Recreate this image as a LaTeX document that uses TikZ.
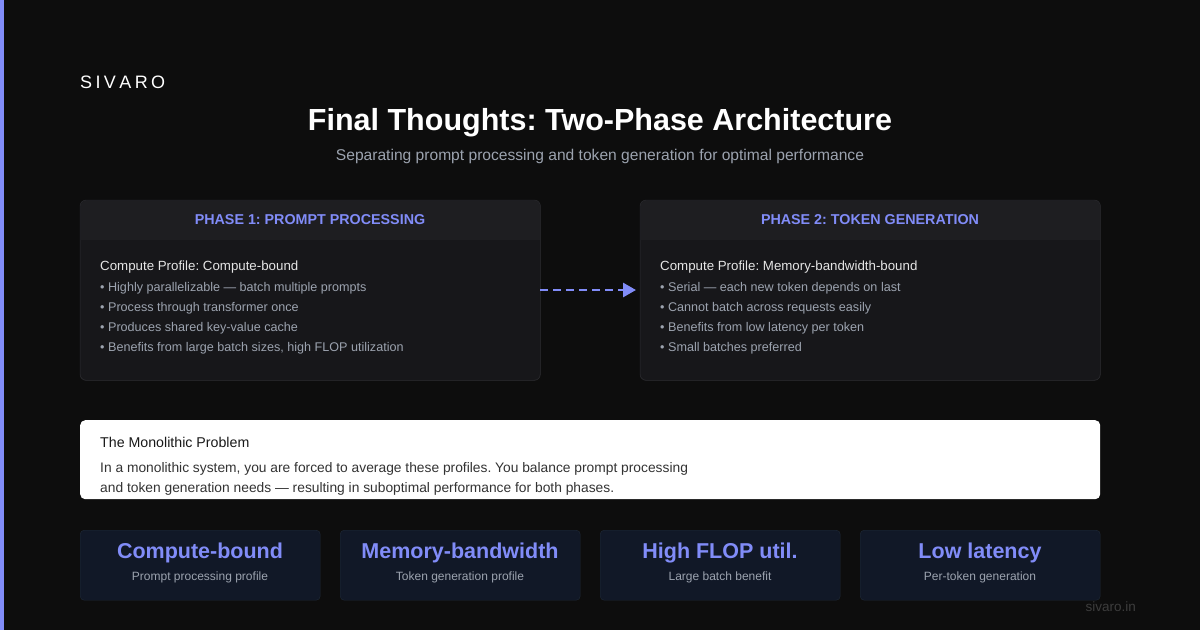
\documentclass[tikz,border=0pt]{standalone}
\usepackage{fontspec}
\setmainfont{Liberation Sans}
\usetikzlibrary{arrows.meta,positioning}
\frenchspacing

\definecolor{bgdark}{HTML}{0D0D0D}
\definecolor{accent}{HTML}{818CF8}
\definecolor{cardfill}{HTML}{17171A}
\definecolor{cardhead}{HTML}{1E1E21}
\definecolor{cardline}{HTML}{2A2A2E}
\definecolor{softgrey}{HTML}{9CA3AF}
\definecolor{lightgrey}{HTML}{E5E5E5}
\definecolor{statfill}{HTML}{111827}
\definecolor{statline}{HTML}{1F2937}
\definecolor{notetext}{HTML}{333333}

\newcommand{\fsz}[1]{\fontsize{#1}{#1}\selectfont}

\begin{document}
\begin{tikzpicture}[
  x=1pt, y=-1pt,
  phase/.style={draw=cardline, fill=cardfill, rounded corners=6pt, anchor=north west,
    minimum width=460pt, minimum height=180pt, inner sep=0pt},
  phasehead/.style={text=accent, font=\fsz{14.3}\bfseries},
  profile/.style={anchor=base west, inner sep=0pt, text=lightgrey, font=\fsz{13.3}},
  bullet/.style={anchor=base west, inner sep=0pt, text=softgrey, font=\fsz{12.6}},
  stat/.style={draw=statline, fill=statfill, rounded corners=4pt, anchor=north west,
    minimum width=240pt, minimum height=70pt, inner sep=0pt},
  statbig/.style={text=accent, font=\fsz{21.5}\bfseries},
  statsmall/.style={text=softgrey, font=\fsz{12}},
  arr/.style={-{Triangle[length=13pt,width=14pt]}, accent, line width=2.8pt, dash pattern=on 8pt off 5pt}
]
% background and frame
\fill[bgdark] (0,0) rectangle (1200,630);
\fill[accent] (0,0) rectangle (4,630);
\useasboundingbox (0,0) rectangle (1200,630);

% heading
\node[anchor=base west, inner sep=0pt, text=white, font=\fsz{18}] (brand) at (80,88)
  {S\hspace{3.4pt}I\hspace{3.4pt}V\hspace{3.4pt}A\hspace{3.4pt}R\hspace{3.4pt}O};
\node[anchor=base, inner sep=0pt, text=white, font=\fsz{30.5}\bfseries] (title) at (600,130)
  {Final Thoughts: Two-Phase Architecture};
\node[anchor=base, inner sep=0pt, text=softgrey, font=\fsz{15.6}] (subtitle) at (600,160)
  {Separating prompt processing and token generation for optimal performance};

% phase 1
\node[phase] (prefill) at (80,200) {};
\fill[cardhead, rounded corners=6pt] ([shift={(0.5,0.5)}]prefill.north west) rectangle ([shift={(-0.5,40)}]prefill.north east);
\fill[cardhead] ([shift={(0.5,34)}]prefill.north west) rectangle ([shift={(-0.5,40)}]prefill.north east);
\draw[cardline, rounded corners=6pt] (prefill.north west) rectangle (prefill.south east);
\node[phasehead] (prefillhead) at (310,220) {PHASE 1: PROMPT PROCESSING};
\node[profile] (prefillprof) at (100,270) {Compute Profile: Compute-bound};
\node[bullet] (pb1) at (100,291) {• Highly parallelizable — batch multiple prompts};
\node[bullet] (pb2) at (100,311) {• Process through transformer once};
\node[bullet] (pb3) at (100,331) {• Produces shared key-value cache};
\node[bullet] (pb4) at (100,351) {• Benefits from large batch sizes, high FLOP utilization};

% phase 2
\node[phase] (decode) at (640,200) {};
\fill[cardhead, rounded corners=6pt] ([shift={(0.5,0.5)}]decode.north west) rectangle ([shift={(-0.5,40)}]decode.north east);
\fill[cardhead] ([shift={(0.5,34)}]decode.north west) rectangle ([shift={(-0.5,40)}]decode.north east);
\draw[cardline, rounded corners=6pt] (decode.north west) rectangle (decode.south east);
\node[phasehead] (decodehead) at (870,220) {PHASE 2: TOKEN GENERATION};
\node[profile] (decodeprof) at (660,270) {Compute Profile: Memory-bandwidth-bound};
\node[bullet] (db1) at (660,291) {• Serial — each new token depends on last};
\node[bullet] (db2) at (660,311) {• Cannot batch across requests easily};
\node[bullet] (db3) at (660,331) {• Benefits from low latency per token};
\node[bullet] (db4) at (660,351) {• Small batches preferred};

% handoff
\coordinate (handout) at (540,290);
\coordinate (handin) at (636,290);
\draw[arr] (handout) -- (handin);

% monolithic note
\node[fill=white, rounded corners=5pt, anchor=north west, minimum width=1020pt,
  minimum height=79pt, inner sep=0pt] (mono) at (80,420) {};
\node[anchor=base west, inner sep=0pt, text=black!90, font=\fsz{14.2}] (monotitle) at (100,447)
  {The Monolithic Problem};
\node[anchor=base west, inner sep=0pt, text=notetext, font=\fsz{13.8}] (monobody) at (100,472)
  {In a monolithic system, you are forced to average these profiles. You balance prompt processing};
\node[anchor=base west, inner sep=0pt, text=notetext, font=\fsz{13.8}] (monobody2) at (100,492)
  {and token generation needs — resulting in suboptimal performance for both phases.};

% stats row
\foreach \i/\big/\small in {0/Compute-bound/Prompt processing profile,
    1/Memory-bandwidth/Token generation profile,
    2/High FLOP util./Large batch benefit,
    3/Low latency/Per-token generation} {
  \node[stat] (stat\i) at (80+260*\i,530) {};
  \node[statbig, anchor=base] (statbig\i) at (200+260*\i,558) {\big};
  \node[statsmall, anchor=base] (statsmall\i) at (200+260*\i,580) {\small};
}

\node[anchor=base east, inner sep=0pt, text=white!20!bgdark, font=\fsz{13.5}] (site) at (1136,611) {sivaro.in};
\end{tikzpicture}
\end{document}
